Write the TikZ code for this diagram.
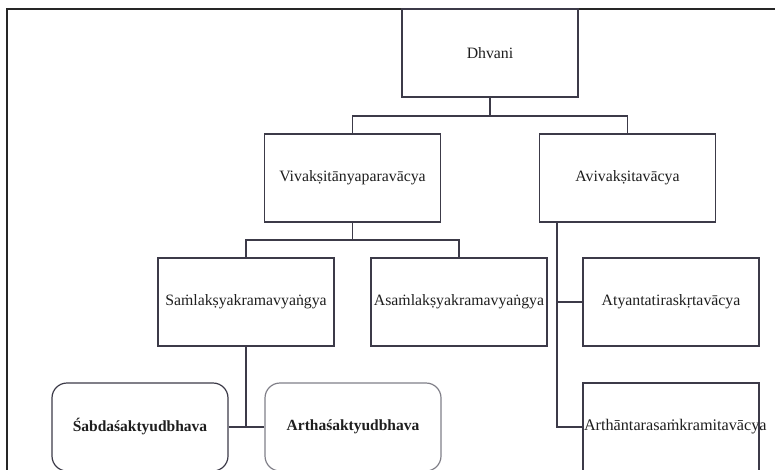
\documentclass[tikz,border=0pt]{standalone}
\usepackage{fontspec}
\setmainfont{Liberation Serif}
\usetikzlibrary{calc}
\definecolor{lin}{HTML}{3C3A48}
\definecolor{txt}{HTML}{1E1E1E}
\begin{document}
\begin{tikzpicture}[x=1pt,y=-1pt,
  box/.style={draw=lin,line width=1.2pt,rectangle,minimum width=176pt,minimum height=88pt,
    inner xsep=1pt,text=txt,font=\fontsize{15.8}{18}\selectfont},
  rbox/.style={box,rounded corners=15pt,font=\fontsize{15.5}{18}\selectfont\bfseries},
  conn/.style={draw=lin,line width=1.2pt},
  frame/.style={draw=black!85,line width=2pt}]
\useasboundingbox (0,0) rectangle (775,470);
\clip (0,0) rectangle (775,470);
\draw[frame] (7,480) -- (7,9) -- (790,9);
\node[box] (dhvani) at (490,53) {Dhvani};
\node[box] (vivak) at (352.5,178) {Vivakṣitānyaparavācya};
\node[box] (avivak) at (627.5,178) {Avivakṣitavācya};
\node[box] (samlak) at (246,302) {Saṁlakṣyakramavyaṅgya};
\node[box] (asamlak) at (459,302) {Asaṁlakṣyakramavyaṅgya};
\node[box] (atyant) at (671,302) {Atyantatiraskṛtavācya};
\node[box,inner xsep=0pt] (arth) at (671,427) {\makebox[176pt][l]{\hspace{1pt}\fontsize{16.2}{18}\selectfont Arthāntarasaṁkramitavācya}};
\node[rbox] (sabda) at (140,427) {Śabdaśaktyudbhava};
\node[rbox,draw=lin!65] (artha) at (353,427) {Arthaśaktyudbhava};
\coordinate (l1) at (490,116);
\coordinate (l2) at (352.5,240);
\draw[conn] (dhvani.south) -- (l1);
\draw[conn] (vivak.north) |- (l1) -| (avivak.north);
\draw[conn] (vivak.south) -- (l2);
\draw[conn] (samlak.north) |- (l2) -| (asamlak.north);
\coordinate (av) at ($(avivak.south west)+(18,0)$);
\draw[conn] (av) |- (atyant.west);
\draw[conn] (av) |- (arth.west);
\draw[conn] (samlak.south) -- (samlak.south |- sabda.east);
\draw[conn] (sabda.east) -- (artha.west);
\end{tikzpicture}
\end{document}
